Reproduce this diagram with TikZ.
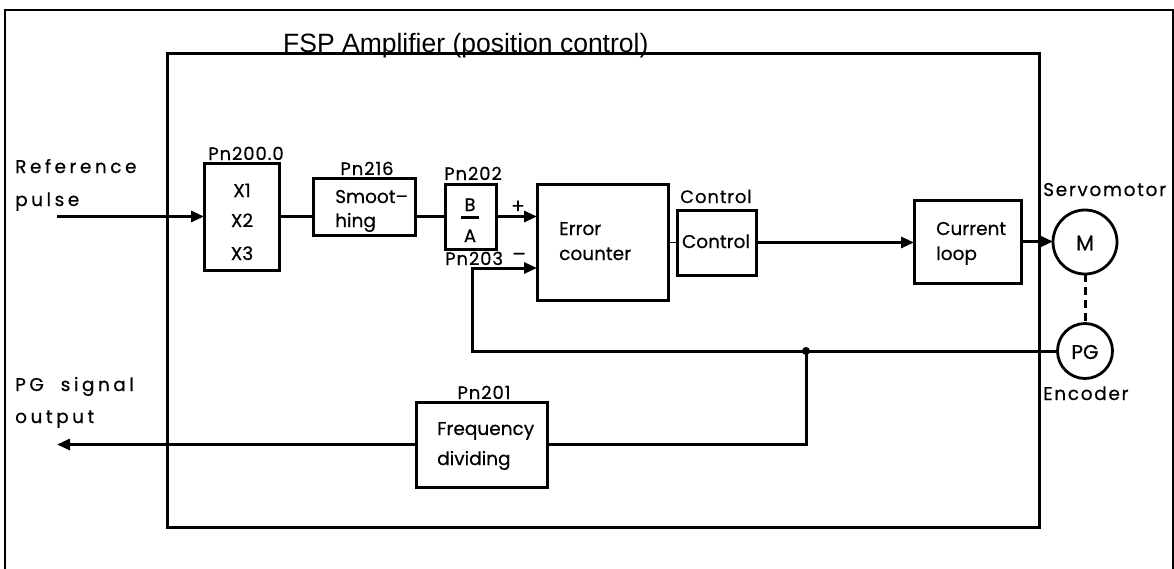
\documentclass[tikz,border=0pt]{standalone}
\usepackage{fontspec}
\setmainfont{Poppins}
\newfontfamily\titlefont{Liberation Sans}
\usetikzlibrary{arrows.meta}
\tikzset{
  box/.style={draw, line width=3pt, inner sep=0pt, outer sep=0pt},
  wire/.style={line width=3pt},
  thinwire/.style={line width=1.2pt},
  arr/.style={-{Triangle[length=13pt,width=11pt]}},
  body/.style={inner sep=0pt, font=\addfontfeature{FakeBold=0.5}\fontsize{18.5}{22}\selectfont},
  lbl/.style={inner sep=0pt, font=\addfontfeature{FakeBold=0.5,LetterSpace=5}\fontsize{18}{21}\selectfont},
  sign/.style={inner sep=0pt, font=\addfontfeature{FakeBold=0.5}\fontsize{20}{22}\selectfont},
  wide/.style={inner sep=0pt, font=\addfontfeature{FakeBold=0.5,LetterSpace=19}\fontsize{18.5}{22}\selectfont},
  widish/.style={inner sep=0pt, font=\addfontfeature{FakeBold=0.5,LetterSpace=9}\fontsize{18.5}{22}\selectfont},
  motor/.style={draw, circle, line width=2.8pt, inner sep=0pt, outer sep=0pt},
}
\begin{document}
\begin{tikzpicture}[x=1pt,y=-1pt]
\useasboundingbox (0,0) rectangle (1174,568);
% outer frame (bottom edge outside the picture)
\draw[line width=2.8pt] (5,580) -- (5,10) -- (1173,10) -- (1173,580);
% amplifier box
\node[box, minimum width=872pt, minimum height=474pt, anchor=north west] (amp) at (167,53) {};
\node[anchor=base west, inner sep=0pt, font=\titlefont\fontsize{26.5}{30}\selectfont] (title) at (283,52) {FSP Amplifier (position control)};

% blocks
\node[box, minimum width=75pt, minimum height=107pt] (mul) at (241.5,216.5) {};
\node[box, minimum width=102pt, minimum height=57pt] (smo) at (364,206.5) {};
\node[box, minimum width=51pt, minimum height=65pt] (ba) at (470.5,216.5) {};
\node[box, minimum width=131pt, minimum height=116pt] (err) at (602.5,242) {};
\node[box, minimum width=79pt, minimum height=65pt] (ctl) at (716.5,242.5) {};
\node[box, minimum width=107pt, minimum height=83pt] (cur) at (967.5,241.5) {};
\node[box, minimum width=131pt, minimum height=85pt] (fd) at (481.5,444.5) {};
\node[motor, minimum size=64pt] (M) at (1085,242) {};
\node[motor, minimum size=55pt] (PG) at (1085,351) {};

% texts
\node[wide, anchor=base west] (t1) at (15,173) {Reference};
\node[wide, anchor=base west] (t2) at (15,206) {pulse};
\node[wide, anchor=base west] (t3) at (15,391) {PG\ \ signal};
\node[wide, anchor=base west] (t4) at (15,423) {output};

\node[lbl, anchor=base] (l200) at (246,160) {Pn200.0};
\node[body, anchor=base] (x1) at (242,197) {X1};
\node[body, anchor=base] (x2) at (242,227) {X2};
\node[body, anchor=base] (x3) at (242,260) {X3};

\node[lbl, anchor=base] (l216) at (367,175) {Pn216};
\node[body, anchor=base west] (s1) at (335,203) {Smoot--};
\node[body, anchor=base west] (s2) at (335,227) {hing};

\node[lbl, anchor=base] (l202) at (473,180) {Pn202};
\node[lbl, anchor=base] (tb) at (470,211) {B};
\node[lbl, anchor=base] (ta) at (470,242) {A};
\draw[line width=3pt] (461,217) -- (479,217);
\node[lbl, anchor=base west] (l203) at (445,265) {Pn203};
\node[sign] (plus) at (518,207) {+};
\node[sign] (minus) at (519,257) {--};

\node[body, anchor=base west] (e1) at (559,235) {Error};
\node[body, anchor=base west] (e2) at (559,260) {counter};

\node[lbl, anchor=base] (lctl) at (716,203) {Control};
\node[body, anchor=base] (ictl) at (716,248) {Control};

\node[body, anchor=base west] (c1) at (936,235) {Current};
\node[body, anchor=base west] (c2) at (936,260) {loop};

\node[body, font=\addfontfeature{FakeBold=0.5}\fontsize{21}{24}\selectfont] (tm) at (1085,243) {M};
\node[body, font=\addfontfeature{FakeBold=0.5}\fontsize{20}{24}\selectfont] (tpg) at (1085,352) {PG};
\node[widish, anchor=base west] (servo) at (1043,196) {Servomotor};
\node[widish, anchor=base west] (enc) at (1043,400) {Encoder};

\node[lbl, anchor=base] (l201) at (484,399) {Pn201};
\node[body, anchor=base west] (f1) at (437,435) {Frequency};
\node[body, anchor=base west] (f2) at (437,465) {dividing};

% connectors
\coordinate (refin) at (57,216.5);
\coordinate (pgout) at (57,444.5);
\coordinate (J) at (806,351);
\coordinate (fb1) at (472,351);
\coordinate (fb2) at (472,268);

\draw[wire, arr] (refin) -- (mul.west);
\draw[wire] (mul.east) -- (mul.east -| smo.west);
\draw[wire] (smo.east |- mul.east) -- (ba.west);
\draw[wire, arr] (ba.east) -- (ba.east -| err.west);
\draw[thinwire] (err.east |- ctl.west) -- (ctl.west);
\draw[wire, arr] (ctl.east) -- (ctl.east -| cur.west);
\draw[wire, arr] (cur.east) -- (cur.east -| M.west);
\draw[wire, dash pattern=on 8pt off 5pt] (M.south) -- (PG.north);
\draw[wire] (PG.west) -- (J);
\draw[wire, arr] (J) -- (fb1) -- (fb2) -- (fb2 -| err.west);
\draw[wire] (J) |- (fd.east);
\draw[wire, arr] (fd.west) -- (pgout);
\fill (J) circle (4pt);
\end{tikzpicture}
\end{document}
